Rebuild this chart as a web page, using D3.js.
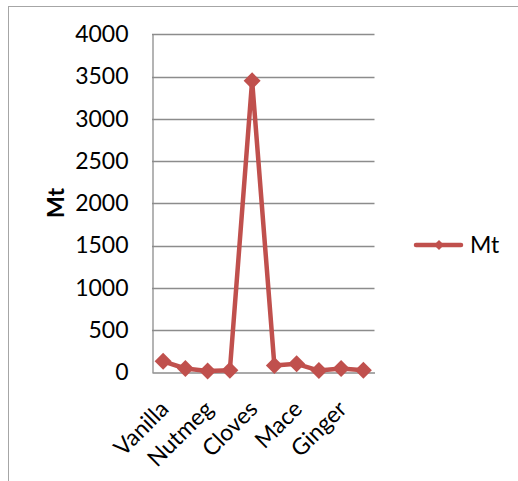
<!DOCTYPE html>
<html><head><meta charset="utf-8">
<script src="https://cdn.jsdelivr.net/npm/d3@7"></script>
<style>body{margin:0;background:#fff}svg{display:block}text{font-family:Lato,"Open Sans",sans-serif}</style>
</head><body>
<script>
const categories = ["Vanilla","Cardamom","Nutmeg","Cinnamon","Cloves","Black pepper","Mace","Turmeric","Ginger","Chillies"];
const values = [130, 45, 15, 25, 3450, 80, 100, 20, 45, 25];
const yTicks = [0,500,1000,1500,2000,2500,3000,3500,4000];
const seriesName = "Mt";

const W=518,H=481, FS=23;
const svg=d3.select("body").append("svg").attr("width",W).attr("height",H);
svg.append("rect").attr("x",8.5).attr("y",6.5).attr("width",W).attr("height",H)
  .attr("fill","#fff").attr("stroke","#a6a6a6").attr("stroke-width",1);

const x=d3.scaleBand().domain(categories).range([152,374.5]);
const y=d3.scaleLinear().domain([0,4000]).range([372.3,34.3]);
const color="#C0504D";

// gridlines
svg.append("g").selectAll("line").data(yTicks.filter(d=>d>0)).join("line")
  .attr("x1",152).attr("x2",374.5).attr("y1",d=>Math.round(y(d))+0.5).attr("y2",d=>Math.round(y(d))+0.5)
  .attr("stroke","#8c8c8c").attr("stroke-width",1.3);

// y axis
const ya=svg.append("g").attr("transform","translate(152.5,0)")
  .call(d3.axisLeft(y).tickValues(yTicks).tickFormat(d3.format("d")).tickSize(0).tickPadding(24));
ya.select(".domain").attr("stroke","#8c8c8c").attr("stroke-width",1.3);
ya.selectAll("text").attr("font-size",FS).attr("fill","#000").attr("font-family","Lato");

// x axis
const xa=svg.append("g").attr("transform","translate(0,"+(Math.round(y(0))+0.5)+")")
  .call(d3.axisBottom(x).tickValues(categories.filter((d,i)=>i%2===0)).tickSize(0).tickPadding(0));
xa.select(".domain").attr("stroke","#8c8c8c").attr("stroke-width",1.3);
xa.selectAll("text").attr("font-size",FS).attr("fill","#000").attr("font-family","Lato")
  .attr("text-anchor","end").attr("dy",0)
  .attr("transform","translate(7,38) rotate(-45)");

// axis title
svg.append("text").attr("transform","translate(64,203) rotate(-90)").attr("text-anchor","middle")
  .attr("font-size",FS).attr("font-weight","bold").text(seriesName);

// line
const cx=d=>x(d)+x.bandwidth()/2;
svg.append("path").datum(values.map((v,i)=>[categories[i],v]))
  .attr("d",d3.line().x(d=>cx(d[0])).y(d=>y(d[1])))
  .attr("fill","none").attr("stroke",color).attr("stroke-width",4.5).attr("stroke-linejoin","round");
svg.append("g").selectAll("path").data(values).join("path")
  .attr("d",d3.symbol().type(d3.symbolSquare).size(144))
  .attr("transform",(d,i)=>`translate(${cx(categories[i])},${y(d)}) rotate(45)`)
  .attr("fill",color);

// legend
const lg=svg.append("g");
lg.append("line").attr("x1",416).attr("x2",461).attr("y1",245).attr("y2",245)
  .attr("stroke",color).attr("stroke-width",4.5).attr("stroke-linecap","round");
lg.append("path").attr("transform","translate(439,245) rotate(45)")
  .attr("d",d3.symbol().type(d3.symbolSquare).size(50)).attr("fill",color);
lg.append("text").attr("x",470).attr("y",253).attr("font-size",FS).text(seriesName);
</script>
</body></html>
